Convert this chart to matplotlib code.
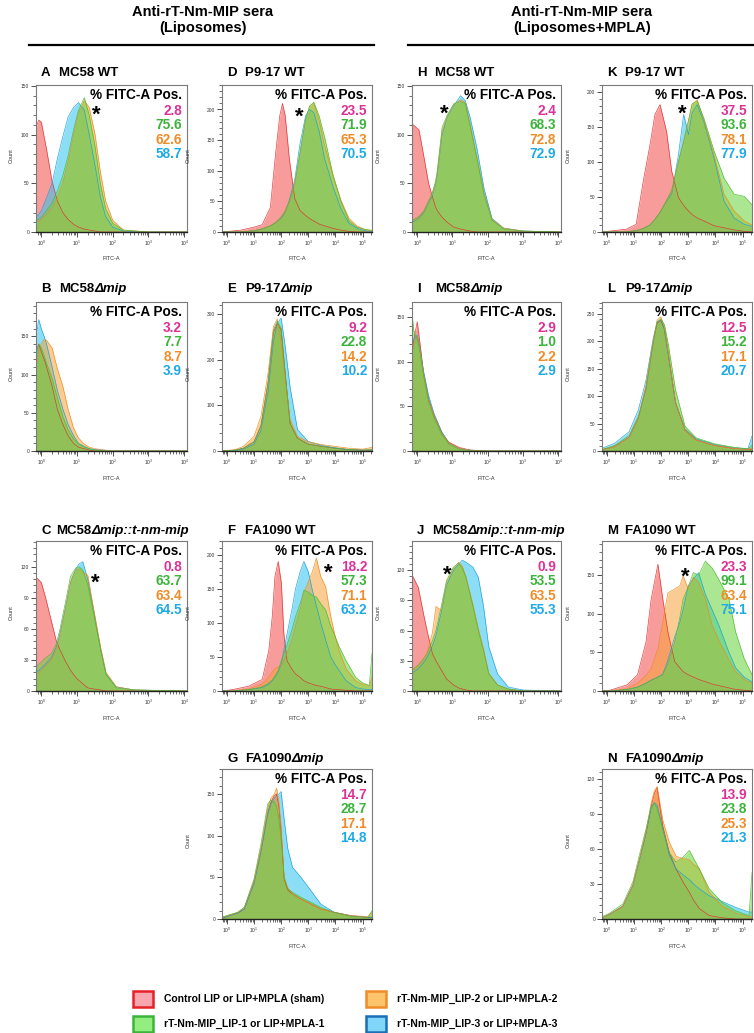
import matplotlib
matplotlib.use('Agg')
import matplotlib.pyplot as plt
from matplotlib.patches import Rectangle
from matplotlib.lines import Line2D
from matplotlib.ticker import MultipleLocator, AutoMinorLocator

plt.rcParams['font.family'] = ['Liberation Sans', 'DejaVu Sans']
plt.rcParams['mathtext.fontset'] = 'custom'
plt.rcParams['mathtext.rm'] = 'Liberation Sans'

# ---- data: FITC-A bins (x) and event counts per serum group ----
a_x = [0.71, 0.85, 1, 1.4, 2, 2.8, 4, 5.6, 8, 11, 16, 22, 32, 45, 63, 100, 200, 1000, 12000]
a_red = [108, 115, 113, 85, 52, 32, 20, 13, 8, 5, 3, 2, 1, 0, 0, 0, 0, 0, 0]
a_green = [12, 13, 15, 22, 30, 42, 58, 78, 105, 125, 138, 120, 88, 50, 24, 9, 2, 0, 0]
a_orange = [10, 11, 13, 18, 25, 35, 50, 72, 100, 122, 135, 128, 100, 62, 32, 12, 2, 0, 0]
a_blue = [15, 18, 22, 35, 50, 75, 98, 118, 128, 133, 125, 100, 68, 36, 16, 5, 1, 0, 0]
a_pct = ['2.8', '75.6', '62.6', '58.7']

b_x = [0.71, 0.85, 1, 1.2, 1.4, 2, 2.8, 4, 5.6, 8, 11, 16, 22, 32, 63, 100, 1000, 12000]
b_red = [130, 140, 130, 120, 110, 85, 55, 35, 20, 10, 5, 3, 1, 0, 0, 0, 0, 0]
b_green = [125, 140, 135, 125, 115, 95, 70, 45, 28, 16, 9, 5, 3, 1, 0, 0, 0, 0]
b_orange = [110, 130, 140, 146, 145, 135, 108, 85, 55, 30, 17, 9, 5, 3, 1, 0, 0, 0]
b_blue = [150, 172, 160, 150, 140, 110, 80, 55, 35, 20, 10, 6, 3, 2, 1, 0, 0, 0]
b_pct = ['3.2', '7.7', '8.7', '3.9']

c_x = [0.71, 1, 1.3, 1.9, 2.6, 3.3, 4.7, 6.6, 9.3, 11.5, 14.5, 20, 29, 46, 65, 126, 400, 12000]
c_red = [110, 105, 91, 68, 49, 40, 29, 20, 13, 10, 7, 3, 2, 1, 0, 0, 0, 0]
c_green = [23, 28, 32, 36, 45, 59, 85, 111, 119, 120, 117, 103, 75, 39, 16, 3, 1, 0]
c_orange = [15, 20, 24, 30, 40, 52, 78, 105, 117, 118, 115, 112, 80, 42, 18, 4, 1, 0]
c_blue = [18, 22, 26, 32, 42, 55, 80, 105, 118, 123, 125, 108, 78, 40, 16, 4, 1, 0]
c_pct = ['0.8', '63.7', '63.4', '64.5']

d_x = [0.66, 3.2, 10, 20, 40, 63, 89, 112, 141, 200, 316, 500, 800, 1120, 1600, 2500, 4000,
       8000, 16000, 32000, 63000, 126000, 224000]
d_red = [0, 3, 8, 12, 40, 130, 190, 210, 190, 120, 55, 35, 27, 22, 18, 13, 10, 6, 3, 1, 0, 0, 0]
d_green = [0, 0, 2, 5, 10, 16, 22, 28, 35, 50, 80, 130, 185, 205, 212, 190, 155, 95, 50, 18, 8, 4, 3]
d_orange = [0, 0, 2, 5, 10, 15, 21, 27, 33, 47, 75, 128, 182, 206, 210, 182, 142, 92, 52, 22, 10, 4, 2]
d_blue = [0, 0, 2, 5, 10, 15, 20, 25, 32, 52, 85, 145, 190, 200, 195, 165, 120, 75, 38, 14, 6, 2, 1]
d_pct = ['23.5', '71.9', '65.3', '70.5']

e_x = [0.66, 2, 4, 10, 18, 33, 52, 72, 100, 141, 214, 400, 1000, 3200, 10000, 32000, 100000, 224000]
e_red = [0, 2, 6, 20, 55, 150, 260, 280, 265, 170, 60, 28, 15, 10, 6, 3, 2, 2]
e_green = [0, 2, 6, 20, 55, 150, 265, 285, 270, 170, 60, 28, 15, 10, 6, 3, 2, 3]
e_orange = [0, 3, 10, 32, 76, 171, 273, 290, 240, 160, 69, 32, 20, 14, 10, 6, 4, 8]
e_blue = [0, 1, 4, 15, 45, 130, 240, 280, 292, 230, 140, 47, 21, 12, 7, 3, 2, 2]
e_pct = ['9.2', '22.8', '14.2', '10.2']

f_x = [0.66, 1.6, 6.3, 20, 35, 47, 59, 78, 102, 126, 166, 251, 339, 501, 692, 1000, 1413, 1995,
       2884, 4365, 6761, 10000, 13800, 25100, 56200, 100000, 178000, 224000]
f_red = [0, 2, 7, 17, 59, 109, 168, 190, 158, 84, 44, 32, 25, 20, 15, 12, 10, 8, 7, 5, 3, 2, 2, 1,
         0, 0, 0, 0]
f_green = [0, 0, 2, 6, 12, 16, 22, 30, 45, 55, 68, 90, 109, 128, 148, 145, 140, 138, 128, 119, 95,
           79, 65, 44, 20, 12, 8, 55]
f_orange = [0, 0, 3, 10, 20, 28, 33, 35, 38, 45, 55, 75, 95, 120, 145, 160, 175, 195, 168, 153,
            109, 79, 59, 32, 15, 10, 8, 20]
f_blue = [0, 0, 2, 5, 10, 15, 20, 28, 40, 60, 84, 120, 150, 175, 190, 175, 148, 125, 100, 75, 50,
          38, 30, 15, 5, 3, 2, 2]
f_pct = ['18.2', '57.3', '71.1', '63.2']

g_x = [0.66, 1, 2.5, 4.4, 10, 18, 32, 42, 56, 68, 83, 100, 129, 174, 263, 537, 1259, 2884, 9120,
       37150, 158500, 224000]
g_red = [1, 3, 7, 12, 44, 82, 128, 140, 148, 150, 135, 105, 48, 35, 30, 24, 18, 12, 8, 4, 2, 2]
g_green = [2, 4, 8, 14, 48, 90, 138, 143, 140, 135, 120, 95, 50, 36, 32, 26, 20, 14, 8, 3, 2, 10]
g_orange = [2, 4, 8, 14, 46, 85, 133, 145, 150, 157, 140, 110, 50, 38, 30, 24, 18, 12, 8, 4, 3, 8]
g_blue = [1, 3, 7, 12, 42, 80, 125, 138, 145, 148, 150, 153, 120, 85, 62, 50, 34, 18, 8, 4, 2, 2]
g_pct = ['14.7', '28.7', '17.1', '14.8']

h_x = [0.72, 1.12, 1.55, 2.1, 2.6, 3.3, 3.7, 5.1, 7.1, 11, 17, 23, 32, 50, 78, 132, 282, 1000, 11500]
h_red = [111, 105, 77, 50, 38, 26, 22, 15, 10, 5, 3, 2, 1, 0, 0, 0, 0, 0, 0]
h_green = [12, 16, 22, 32, 39, 52, 63, 108, 120, 132, 134, 132, 108, 74, 39, 12, 3, 1, 0]
h_orange = [11, 15, 21, 31, 38, 50, 60, 104, 119, 131, 136, 133, 110, 76, 40, 13, 4, 1, 0]
h_blue = [10, 14, 20, 30, 36, 48, 58, 100, 118, 130, 140, 135, 117, 85, 45, 14, 4, 1, 0]
h_pct = ['2.4', '68.3', '72.8', '72.9']

i_x = [0.68, 0.8, 1, 1.2, 1.5, 2.1, 3, 4.9, 7.8, 15.5, 32, 100, 12000]
i_red = [100, 125, 145, 120, 88, 58, 40, 21, 10, 4, 1, 0, 0]
i_green = [160, 135, 125, 110, 85, 55, 37, 19, 8, 2, 0, 0, 0]
i_orange = [110, 120, 128, 112, 87, 57, 40, 20, 9, 3, 1, 0, 0]
i_blue = [120, 125, 130, 115, 90, 62, 42, 22, 9, 3, 1, 0, 0]
i_pct = ['2.9', '1.0', '2.2', '2.9']

j_x = [0.72, 1.07, 1.5, 1.9, 2.7, 3.4, 4.8, 6.8, 10.7, 15, 19, 24, 38, 54, 76, 107, 190, 380, 1000, 11500]
j_red = [115, 103, 77, 60, 37, 30, 21, 12, 6, 3, 2, 1, 0, 0, 0, 0, 0, 0, 0, 0]
j_green = [21, 26, 32, 37, 50, 60, 84, 110, 123, 127, 122, 113, 84, 60, 40, 17, 6, 2, 0, 0]
j_orange = [20, 25, 31, 38, 58, 84, 80, 108, 122, 128, 124, 114, 86, 62, 42, 18, 6, 2, 0, 0]
j_blue = [18, 22, 28, 33, 45, 55, 78, 105, 120, 126, 130, 128, 123, 113, 84, 44, 17, 4, 1, 0]
j_pct = ['0.9', '53.5', '63.5', '55.3']

k_x = [0.66, 5.2, 12, 22, 39, 59, 91, 158, 245, 437, 676, 1020, 1380, 2140, 3720, 8900, 20900,
       49000, 115000, 224000]
k_red = [0, 4, 11, 73, 125, 168, 182, 144, 87, 49, 38, 30, 25, 20, 16, 9, 6, 3, 1, 0]
k_green = [0, 0, 2, 5, 10, 18, 28, 45, 60, 101, 130, 160, 183, 187, 163, 116, 77, 54, 51, 39]
k_orange = [0, 0, 2, 5, 10, 18, 28, 45, 58, 100, 128, 158, 182, 189, 160, 110, 54, 30, 16, 10]
k_blue = [0, 0, 2, 5, 10, 18, 28, 44, 54, 111, 168, 139, 170, 182, 158, 106, 44, 20, 11, 8]
k_pct = ['37.5', '93.6', '78.1', '77.9']

l_x = [0.66, 1.9, 6.6, 14.5, 27.5, 51, 71, 98, 132, 182, 339, 759, 1950, 9330, 45700, 158000, 224000]
l_red = [2, 8, 25, 60, 115, 198, 232, 238, 222, 178, 88, 38, 20, 10, 5, 3, 3]
l_green = [3, 10, 28, 63, 110, 195, 235, 240, 230, 195, 111, 45, 24, 13, 7, 4, 10]
l_orange = [2, 8, 25, 60, 118, 200, 238, 244, 225, 180, 90, 38, 20, 10, 5, 3, 5]
l_blue = [5, 14, 35, 75, 128, 205, 235, 238, 220, 175, 88, 40, 22, 12, 6, 4, 27]
l_pct = ['12.5', '15.2', '17.1', '20.7']

m_x = [0.66, 1.3, 5.6, 13.5, 27.5, 43, 76, 115, 178, 316, 490, 646, 1000, 1550, 2400, 4270, 7590,
       13500, 31600, 56200, 115000, 224000]
m_red = [0, 1, 8, 21, 63, 119, 164, 119, 76, 38, 30, 25, 21, 18, 15, 12, 9, 7, 4, 2, 1, 0]
m_green = [0, 0, 2, 5, 10, 14, 18, 21, 35, 63, 95, 119, 135, 153, 150, 168, 159, 144, 119, 76, 42, 21]
m_orange = [0, 0, 3, 10, 20, 29, 55, 89, 127, 132, 136, 149, 132, 147, 140, 119, 85, 65, 40, 25, 15, 10]
m_blue = [0, 0, 2, 5, 10, 14, 18, 22, 40, 70, 89, 105, 136, 145, 153, 125, 105, 85, 50, 30, 18, 12]
m_pct = ['23.3', '99.1', '63.4', '75.1']

n_x = [0.66, 1.26, 3.9, 9.1, 15.8, 28, 43, 56, 71, 115, 200, 355, 631, 1096, 1585, 2570, 5890,
       18200, 56200, 174000, 224000]
n_red = [1, 4, 11, 29, 51, 74, 97, 108, 113, 80, 57, 43, 32, 23, 16, 9, 3, 1, 0, 0, 0]
n_green = [2, 5, 13, 32, 55, 78, 97, 100, 95, 77, 57, 49, 53, 59, 52, 43, 26, 14, 7, 3, 40]
n_orange = [1, 4, 11, 29, 51, 76, 100, 110, 114, 85, 66, 54, 52, 51, 47, 43, 23, 11, 5, 2, 2]
n_blue = [1, 4, 11, 29, 50, 74, 95, 100, 98, 78, 55, 43, 38, 34, 30, 26, 20, 15, 10, 6, 6]
n_pct = ['13.9', '23.8', '25.3', '21.3']

legend_labels = ['Control LIP or LIP+MPLA (sham)', 'rT-Nm-MIP_LIP-1 or LIP+MPLA-1',
                 'rT-Nm-MIP_LIP-2 or LIP+MPLA-2', 'rT-Nm-MIP_LIP-3 or LIP+MPLA-3']

# ---- layout (pixels) ----
W, H = 754, 1033
fig = plt.figure(figsize=(W / 100, H / 100), dpi=100)

cols = {1: (36, 187), 2: (222, 372), 3: (412, 561), 4: (602, 752)}
rows = {1: (85, 232), 2: (302, 451), 3: (541, 691), 4: (769, 919)}
label_base = {1: 76, 2: 292, 3: 534, 4: 762}
narrow = (0.71, 12000)
wide = (0.66, 224000)

fill_c = ['#f24a4a', '#66d43a', '#f7a23a', '#2ec4f2']
edge_c = ['#e03030', '#4cbb2e', '#ef8a1e', '#1a9fd6']
text_c = ['#dc3296', '#3cb43c', '#f08c28', '#1eaae6']
draw_order = [0, 3, 2, 1]  # red, blue, orange, green on top


def fx(x):
    return x / W


def fy(y):
    return 1 - y / H


panels = [
    # letter, title, italic part, row, col, x, series, pct, ymax, ystep, star(px)
    ('A', 'MC58 WT', '', 1, 1, a_x, (a_red, a_green, a_orange, a_blue), a_pct, 151, 50, (96, 109)),
    ('B', 'MC58', 'Δmip', 2, 1, b_x, (b_red, b_green, b_orange, b_blue), b_pct, 195, 50, None),
    ('C', 'MC58', 'Δmip::t-nm-mip', 3, 1, c_x, (c_red, c_green, c_orange, c_blue), c_pct, 145, 30, (95, 577)),
    ('D', 'P9-17 WT', '', 1, 2, d_x, (d_red, d_green, d_orange, d_blue), d_pct, 240, 50, (299, 111)),
    ('E', 'P9-17', 'Δmip', 2, 2, e_x, (e_red, e_green, e_orange, e_blue), e_pct, 327, 100, None),
    ('F', 'FA1090 WT', '', 3, 2, f_x, (f_red, f_green, f_orange, f_blue), f_pct, 220, 50, (328, 567)),
    ('G', 'FA1090', 'Δmip', 4, 2, g_x, (g_red, g_green, g_orange, g_blue), g_pct, 180, 50, None),
    ('H', 'MC58 WT', '', 1, 3, h_x, (h_red, h_green, h_orange, h_blue), h_pct, 151, 50, (444, 108)),
    ('I', 'MC58', 'Δmip', 2, 3, i_x, (i_red, i_green, i_orange, i_blue), i_pct, 167, 50, None),
    ('J', 'MC58', 'Δmip::t-nm-mip', 3, 3, j_x, (j_red, j_green, j_orange, j_blue), j_pct, 149, 30, (447, 569)),
    ('K', 'P9-17 WT', '', 1, 4, k_x, (k_red, k_green, k_orange, k_blue), k_pct, 210, 50, (682, 108)),
    ('L', 'P9-17', 'Δmip', 2, 4, l_x, (l_red, l_green, l_orange, l_blue), l_pct, 271, 50, None),
    ('M', 'FA1090 WT', '', 3, 4, m_x, (m_red, m_green, m_orange, m_blue), m_pct, 194, 50, (685, 571)),
    ('N', 'FA1090', 'Δmip', 4, 4, n_x, (n_red, n_green, n_orange, n_blue), n_pct, 129, 30, None),
]

for letter, title, ital, r, c, xs, series, pct, ymax, ystep, star in panels:
    x0, x1 = cols[c]
    y0, y1 = rows[r]
    ax = fig.add_axes([fx(x0), fy(y1), (x1 - x0) / W, (y1 - y0) / H])
    for k in draw_order:
        ax.fill_between(xs, series[k], 0, color=fill_c[k], alpha=0.55, lw=0)
        ax.plot(xs, series[k], color=edge_c[k], lw=0.5, alpha=0.9)
    ax.set_xscale('log')
    ax.set_xlim(narrow if c in (1, 3) else wide)
    ax.set_ylim(0, ymax)
    ax.yaxis.set_major_locator(MultipleLocator(ystep))
    ax.yaxis.set_minor_locator(AutoMinorLocator(5))
    ax.tick_params(labelsize=3.5, length=3.5, width=0.6, colors='#333333', pad=1.5)
    ax.tick_params(which='minor', length=2, width=0.4)
    for s in ('top', 'right', 'left'):
        ax.spines[s].set_color('#7a7a7a')
        ax.spines[s].set_linewidth(0.8)
    ax.spines['bottom'].set_color('#222222')
    ax.spines['bottom'].set_linewidth(1.0)
    ax.set_xlabel('FITC-A', fontsize=4, color='#333333')
    ax.set_ylabel('Count', fontsize=4, color='#333333')
    ax.xaxis.set_label_coords(0.5, -0.165)
    ax.yaxis.set_label_coords(-0.15 if c == 1 else -0.21, 0.52)

    # stats block
    tx = x1 - 5
    fig.text(fx(tx), fy(y0 + 14), '% FITC-A Pos.', ha='right', va='baseline',
             fontsize=9.8, fontweight='bold', color='black')
    for k in range(4):
        fig.text(fx(tx), fy(y0 + 30 + 14.3 * k), pct[k], ha='right', va='baseline',
                 fontsize=9.8, fontweight='bold', color=text_c[k])
    if star is not None:
        fig.text(fx(star[0]), fy(star[1] + 12), '*', ha='center', va='baseline',
                 fontsize=16, fontweight='bold', color='black')

    # panel label + strain
    lb = label_base[r]
    fig.text(fx(x0 + 5), fy(lb), letter, ha='left', va='baseline', fontsize=9.5, fontweight='bold')
    gap = 15 if len(ital) > 6 else 18
    t1 = fig.text(fx(x0 + 5 + gap), fy(lb), title, ha='left', va='baseline',
                  fontsize=9.5, fontweight='bold')
    if ital:
        ax.annotate(ital, xy=(1, 0), xycoords=t1, ha='left', va='bottom', fontsize=9.5,
                    fontweight='bold', fontstyle='italic', annotation_clip=False)

# ---- group headers ----
for cx, sub in ((203, '(Liposomes)'), (582, '(Liposomes+MPLA)')):
    fig.text(fx(cx), fy(16), 'Anti-rT-Nm-MIP sera', ha='center', va='baseline',
             fontsize=10.5, fontweight='bold')
    fig.text(fx(cx), fy(32), sub, ha='center', va='baseline', fontsize=10.5, fontweight='bold')
fig.add_artist(Line2D([fx(29), fx(374)], [fy(45), fy(45)], color='black', lw=1.6))
fig.add_artist(Line2D([fx(408), fx(754)], [fy(45), fy(45)], color='black', lw=1.6))

# ---- legend ----
leg_fill = ['#f7a6b0', '#93ee80', '#fdc46c', '#7fd6f8']
leg_edge = ['#e62028', '#3cb43c', '#f08c28', '#1a6fb8']
leg_pos = [(133, 998.5), (133, 1024), (366, 998.5), (366, 1024)]
for k in range(4):
    px, py = leg_pos[k]
    fig.add_artist(Rectangle((fx(px), fy(py + 8)), 20 / W, 16 / H, transform=fig.transFigure,
                             facecolor=leg_fill[k], edgecolor=leg_edge[k], lw=1.8))
    fig.text(fx(px + 31), fy(py), legend_labels[k], ha='left', va='center',
             fontsize=7.5, fontweight='bold')

fig.savefig('out.png', dpi=100)
